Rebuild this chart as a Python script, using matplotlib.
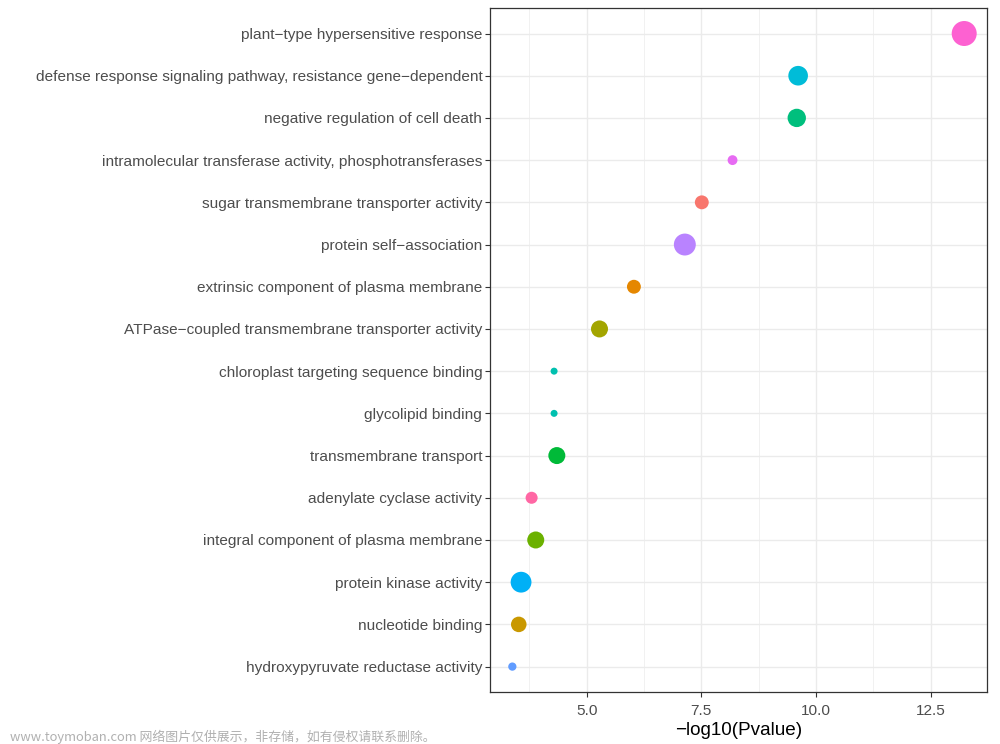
import numpy as np
import matplotlib
matplotlib.use("Agg")
from matplotlib import pyplot as plt

# GO terms, top to bottom
terms = [
    "plant\u2212type hypersensitive response",
    "defense response signaling pathway, resistance gene\u2212dependent",
    "negative regulation of cell death",
    "intramolecular transferase activity, phosphotransferases",
    "sugar transmembrane transporter activity",
    "protein self\u2212association",
    "extrinsic component of plasma membrane",
    "ATPase\u2212coupled transmembrane transporter activity",
    "chloroplast targeting sequence binding",
    "glycolipid binding",
    "transmembrane transport",
    "adenylate cyclase activity",
    "integral component of plasma membrane",
    "protein kinase activity",
    "nucleotide binding",
    "hydroxypyruvate reductase activity",
]
neg_log_p = [13.23, 9.61, 9.58, 8.18, 7.51, 7.14, 6.03, 5.28,
             4.29, 4.29, 4.35, 3.80, 3.89, 3.57, 3.52, 3.38]
counts = [13, 8, 7, 2, 4, 10, 4, 6, 1, 1, 6, 3, 6, 9, 5, 1.4]
colors = ["#FD61D1", "#00BCD8", "#00BF7D", "#E76BF3", "#F8766D", "#B983FF",
          "#E58700", "#A3A500", "#00C0AF", "#00C0AF", "#00BA38", "#FF67A4",
          "#6BB100", "#00B0F6", "#C99800", "#619CFF"]

plt.rcParams['font.family'] = ['Liberation Sans', 'DejaVu Sans']

fig = plt.figure(figsize=(10, 7.44), dpi=100)
ax = fig.add_axes([0.49, 0.070, 0.497, 0.919])

n = len(terms)
ypos = np.arange(n)[::-1]
# point diameter in px grows with sqrt of count (area scale)
diam_px = np.sqrt(49 + 48 * (np.array(counts) - 1))
sizes = (diam_px * 0.72) ** 2
ax.scatter(neg_log_p, ypos, s=sizes, c=colors, linewidths=0, zorder=3)

ax.set_xlim(2.893, 13.727)
ax.set_ylim(-0.6, n - 1 + 0.6)
ax.set_yticks(ypos)
ax.set_yticklabels(terms)
ax.set_xticks([5.0, 7.5, 10.0, 12.5])
ax.set_xticklabels(["5.0", "7.5", "10.0", "12.5"])
ax.set_xticks([3.75, 6.25, 8.75, 11.25], minor=True)

ax.grid(True, which='major', color='#EBEBEB', linewidth=1.0, zorder=0)
ax.grid(True, which='minor', axis='x', color='#EBEBEB', linewidth=0.5, zorder=0)
ax.set_axisbelow(True)
ax.tick_params(axis='y', which='major', length=3.5, width=0.8, color='#333333',
               labelcolor='#4D4D4D', labelsize=11.1, pad=2)
ax.tick_params(axis='x', which='major', length=3.5, width=0.8, color='#333333',
               labelcolor='#4D4D4D', labelsize=11.1, pad=5)
ax.tick_params(axis='x', which='minor', length=0)
for sp in ax.spines.values():
    sp.set_color('#333333')
    sp.set_linewidth(0.9)

ax.set_xlabel("\u2212log10(Pvalue)", fontsize=13.6, color='black', labelpad=3)

fig.text(0.01, 0.004, "www.toymoban.com 网络图片仅供展示，非存储，如有侵权请联系删除。",
         fontsize=9.3, color='#B0B0B0',
         family=['Noto Sans CJK SC', 'DejaVu Sans'])

fig.savefig("out.png", dpi=100)
